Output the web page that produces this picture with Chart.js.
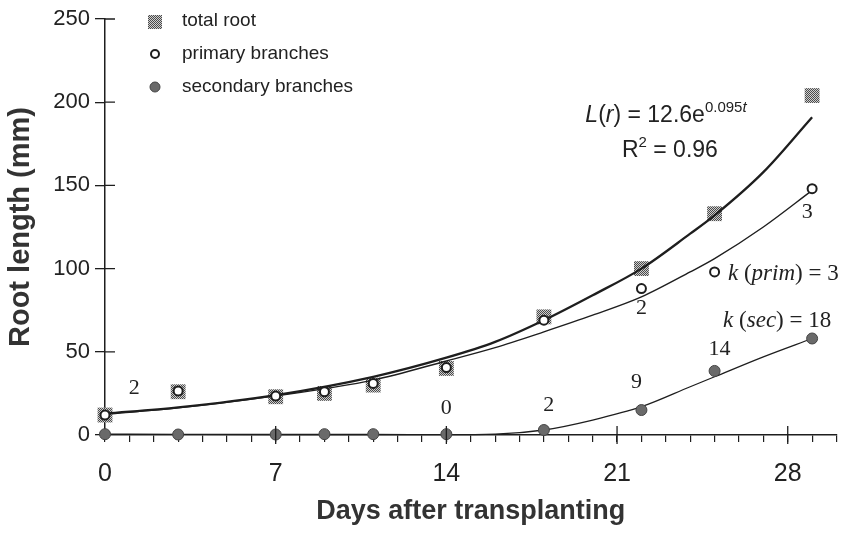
<!DOCTYPE html>
<html><head><meta charset="utf-8">
<script src="https://cdn.jsdelivr.net/npm/chart.js@4.4.1/dist/chart.umd.min.js"></script>
<style>html,body{margin:0;padding:0;background:#fff;}#wrap{width:847px;height:534px;}</style>
</head><body><div id="wrap"><canvas id="c" width="847" height="534"></canvas></div>
<script>
// ---- data ----
const days = [0, 3, 7, 9, 11, 14, 18, 22, 25, 29];
const totalRoot = [12, 26, 23, 25, 30, 40, 71, 100, 133, 204];
const primaryBranches = [12, 26.5, 23.5, 26, 31, 40.5, 69, 88, 98, 148];
const secondaryBranches = [0.5, 0.3, 0.3, 0.5, 0.5, 0.5, 3, 15, 38.5, 58];
const fitDays = [0, 3, 7, 11, 14, 16, 18, 20, 22, 24, 25, 27, 29];
const totalFit = [12.8, 16.6, 24, 35, 46.5, 56, 69, 84, 100, 121, 132, 158, 191];
const primaryFit = [12.5, 16.3, 23.5, 33, 44.5, 52.5, 62, 72, 83, 98, 106, 125, 147];
const secondaryFit = [0.5, 0.4, 0.3, 0.3, 0.2, 0.5, 3, 9, 17, 29, 35, 47, 58];
const xTickValues = [0,1,2,3,4,5,6,7,8,9,10,11,12,13,14,15,16,17,18,19,20,21,22,23,24,25,26,27,28,29,30];
const xMajorTicks = [0, 7, 14, 21, 28];
const xTickLabels = ['0', '7', '14', '21', '28'];
const yTickValues = [0, 50, 100, 150, 200, 250];
const seriesLabels = ['total root', 'primary branches', 'secondary branches'];
// k numbers written next to the points
const kTexts = ['2', '0', '2', '9', '14', '2', '3'];
const kDays = [1.2, 14, 18.2, 21.8, 25.2, 22, 28.8];
const kValues = [28, 16, 18, 32, 51.5, 76, 134];

const pts = (xs, ys) => xs.map((x, i) => ({x: x, y: ys[i]}));

const cv = document.getElementById('c');
const ctx0 = cv.getContext('2d');
const pc = document.createElement('canvas'); pc.width = 2; pc.height = 2;
const pg = pc.getContext('2d');
pg.fillStyle = '#cfcfcf'; pg.fillRect(0, 0, 2, 2);
pg.fillStyle = '#4a4a4a'; pg.fillRect(0, 0, 1, 1); pg.fillRect(1, 1, 1, 1);
const stipple = ctx0.createPattern(pc, 'repeat');

const INK = '#1e1e1e';
const SANS = "'Liberation Sans', Arial, sans-serif";
const SERIF = "'Liberation Serif', 'Times New Roman', serif";

function drawRich(ctx, x, y, segs, size, family) {
  let cx = x;
  segs.forEach(s => {
    const sz = s.sup ? Math.round(size * 0.65) : size;
    ctx.font = (s.i ? 'italic ' : '') + sz + 'px ' + family;
    ctx.fillText(s.t, cx, s.sup ? y - size * 0.45 : y);
    cx += ctx.measureText(s.t).width;
  });
}

const decorPlugin = {
  id: 'decor',
  afterDraw(chart) {
    const {ctx, chartArea: a, scales: {x, y}} = chart;
    ctx.save();
    // major ticks crossing the axes
    ctx.strokeStyle = INK; ctx.lineWidth = 1.3;
    ctx.beginPath();
    xMajorTicks.forEach(d => {
      if (d === 0) return;
      const px = x.getPixelForValue(d);
      ctx.moveTo(px, a.bottom - 9); ctx.lineTo(px, a.bottom + 9);
    });
    yTickValues.forEach(v => {
      if (v === 0) return;
      const py = y.getPixelForValue(v);
      ctx.moveTo(a.left, py); ctx.lineTo(a.left + 10, py);
    });
    ctx.stroke();

    // legend
    const lx = a.left + 50, ly = [a.top + 2, a.top + 35, a.top + 68];
    ctx.fillStyle = stipple; ctx.fillRect(lx - 7, ly[0] - 6, 14, 14);
    ctx.beginPath(); ctx.arc(lx, ly[1], 4, 0, Math.PI * 2);
    ctx.fillStyle = '#fff'; ctx.fill(); ctx.lineWidth = 2; ctx.strokeStyle = INK; ctx.stroke();
    ctx.beginPath(); ctx.arc(lx, ly[2], 5, 0, Math.PI * 2);
    ctx.fillStyle = '#6a6a6a'; ctx.fill(); ctx.lineWidth = 1; ctx.strokeStyle = '#444'; ctx.stroke();
    ctx.fillStyle = '#222'; ctx.font = '19px ' + SANS; ctx.textBaseline = 'middle'; ctx.textAlign = 'left';
    seriesLabels.forEach((t, i) => ctx.fillText(t, lx + 27, ly[i]));

    // k numbers
    ctx.fillStyle = '#222'; ctx.font = '22px ' + SERIF; ctx.textAlign = 'center'; ctx.textBaseline = 'middle';
    kTexts.forEach((t, i) => ctx.fillText(t, x.getPixelForValue(kDays[i]), y.getPixelForValue(kValues[i])));

    // equations
    ctx.textAlign = 'left'; ctx.textBaseline = 'alphabetic';
    drawRich(ctx, x.getPixelForValue(19.7), y.getPixelForValue(188),
      [{t: 'L', i: 1}, {t: '('}, {t: 'r', i: 1}, {t: ') = 12.6e'}, {t: '0.095', sup: 1}, {t: 't', sup: 1, i: 1}], 23, SANS);
    drawRich(ctx, x.getPixelForValue(21.2), y.getPixelForValue(167),
      [{t: 'R'}, {t: '2', sup: 1}, {t: ' = 0.96'}], 23, SANS);
    drawRich(ctx, x.getPixelForValue(25.55), y.getPixelForValue(93),
      [{t: 'k', i: 1}, {t: ' ('}, {t: 'prim', i: 1}, {t: ') = 3'}], 23, SERIF);
    drawRich(ctx, x.getPixelForValue(25.35), y.getPixelForValue(65),
      [{t: 'k', i: 1}, {t: ' ('}, {t: 'sec', i: 1}, {t: ') = 18'}], 23, SERIF);
    ctx.restore();
  }
};

new Chart(cv, {
  type: 'line',
  data: {
    datasets: [
      {label: seriesLabels[0], data: pts(days, totalRoot), showLine: false, pointStyle: 'rect',
       pointRadius: 10.5, pointBackgroundColor: stipple, pointBorderWidth: 0, order: 6, clip: false},
      {label: 'total fit', data: pts(fitDays, totalFit), borderColor: INK, borderWidth: 2.3, pointRadius: 0,
       cubicInterpolationMode: 'monotone', order: 5, clip: false},
      {label: 'primary fit', data: pts(fitDays, primaryFit), borderColor: INK, borderWidth: 1.4, pointRadius: 0,
       cubicInterpolationMode: 'monotone', order: 4, clip: false},
      {label: 'secondary fit', data: pts(fitDays, secondaryFit), borderColor: INK, borderWidth: 1.3, pointRadius: 0,
       cubicInterpolationMode: 'monotone', order: 3, clip: false},
      {label: seriesLabels[1], data: pts(days, primaryBranches), showLine: false, pointStyle: 'circle',
       pointRadius: 4.5, pointBackgroundColor: '#fff', pointBorderColor: INK, pointBorderWidth: 2, order: 1, clip: false},
      {label: seriesLabels[2], data: pts(days, secondaryBranches), showLine: false, pointStyle: 'circle',
       pointRadius: 5.5, pointBackgroundColor: '#6a6a6a', pointBorderColor: '#444', pointBorderWidth: 1, order: 0, clip: false}
    ]
  },
  options: {
    responsive: false, animation: false, devicePixelRatio: 1,
    layout: {padding: {top: 19, right: 7, left: 0, bottom: 6}},
    plugins: {legend: {display: false}, tooltip: {enabled: false}},
    scales: {
      x: {
        type: 'linear', min: 0, max: 30,
        afterBuildTicks: s => { s.ticks = xTickValues.map(v => ({value: v})); },
        afterFit: s => { s.height = 534 - 435 - 6; s.paddingRight = 0; s.paddingLeft = 0; },
        ticks: {autoSkip: false, maxRotation: 0, padding: 17, color: '#222',
          font: {family: "'Liberation Sans Narrow', 'Liberation Sans', Arial", size: 25},
          callback: v => { const k = xMajorTicks.indexOf(v); return k >= 0 ? xTickLabels[k] : ''; }},
        grid: {drawOnChartArea: false, tickLength: 7, color: INK, lineWidth: 1.2},
        border: {color: INK, width: 1.5},
        title: {display: true, text: 'Days after transplanting', color: '#333',
          font: {family: SANS, size: 27, weight: 'bold'}, padding: {top: 0, bottom: 0}}
      },
      y: {
        min: 0, max: 250,
        afterBuildTicks: s => { s.ticks = yTickValues.map(v => ({value: v})); },
        afterFit: s => { s.width = 105; },
        ticks: {padding: 5, color: '#222', font: {family: SANS, size: 22}},
        grid: {drawOnChartArea: false, tickLength: 10, color: INK, lineWidth: 1.3},
        border: {color: INK, width: 1.5},
        title: {display: true, text: 'Root length (mm)', color: '#333',
          font: {family: SANS, size: 29, weight: 'bold'}, padding: {top: 4, bottom: 0}}
      }
    }
  },
  plugins: [decorPlugin]
});
</script></body></html>
